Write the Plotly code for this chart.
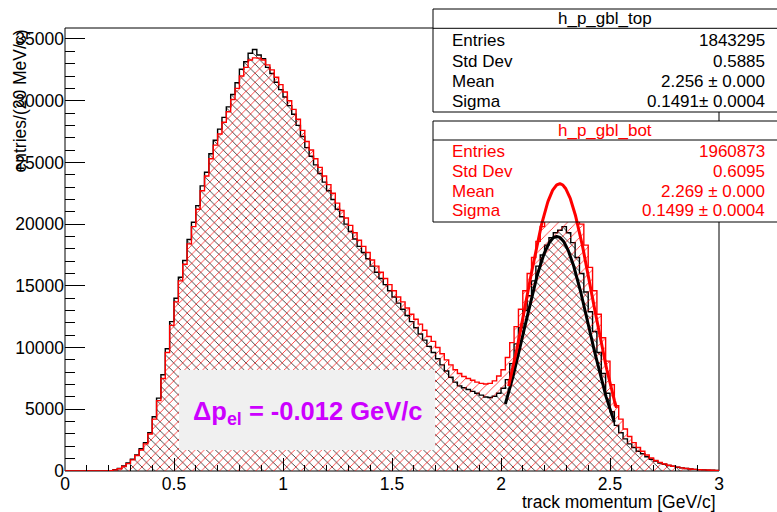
import numpy as np
import plotly.graph_objects as go

# ---------------- data ----------------
bin_width = 0.02
bin_low_edges = [round(i * bin_width, 2) for i in range(150)]

# h_p_gbl_top (black), entries per 20 MeV/c bin
top_counts = [
    0, 0, 0, 0, 0, 0, 0, 0, 0, 0,
    30, 100, 200, 400, 650, 950, 1300, 1800, 2300, 3100,
    4400, 5900, 7800, 9900, 12100, 14000, 15700, 17050, 18750, 20150,
    21500, 23100, 24200, 25700, 26800, 27700, 28650, 29500, 30500, 31450,
    32550, 33150, 33850, 34150, 33700, 33400, 32700, 32200, 31500, 30900,
    30300, 29600, 28900, 28000, 27100, 26200, 25500, 24800, 24100, 23400,
    22700, 22000, 21200, 20600, 20000, 19400, 18800, 18200, 17700, 17200,
    16600, 16100, 15600, 15100, 14600, 14100, 13600, 13100, 12600, 12100,
    11600, 11100, 10600, 10100, 9600, 9100, 8600, 8100, 7600, 7200,
    6900, 6750, 6600, 6450, 6300, 6150, 6000, 5950, 6050, 6300,
    6700, 7400, 8700, 10300, 11600, 13000, 14200, 15400, 16600, 17500,
    18300, 18900, 19300, 19500, 19800, 19300, 18500, 17300, 16000, 14500,
    12900, 11300, 9600, 7900, 6300, 4800, 3700, 3100, 2600, 2200,
    1900, 1600, 1400, 1150, 950, 800, 650, 550, 450, 380,
    300, 250, 200, 160, 130, 110, 90, 70, 60, 50,
]

# h_p_gbl_bot (red)
bot_counts = [
    0, 0, 0, 0, 0, 0, 0, 0, 0, 0,
    30, 90, 180, 370, 600, 900, 1250, 1700, 2200, 3000,
    4200, 5700, 7500, 9600, 11800, 13700, 15400, 16750, 18400, 19800,
    21200, 22700, 23900, 25300, 26400, 27300, 28250, 29100, 30100, 31000,
    32000, 32700, 33300, 33470, 33450, 33300, 32900, 32500, 31900, 31300,
    30700, 30000, 29300, 28500, 27600, 26700, 26000, 25300, 24600, 23900,
    23200, 22500, 21700, 21100, 20500, 19900, 19300, 18700, 18200, 17700,
    17100, 16600, 16100, 15600, 15100, 14600, 14100, 13700, 13200, 12700,
    12300, 11900, 11400, 10900, 10500, 10000, 9500, 9000, 8600, 8200,
    7900, 7650, 7500, 7350, 7200, 7100, 7050, 7100, 7300, 7700,
    8200, 9200, 10400, 11700, 13100, 14600, 16000, 17300, 18600, 19800,
    20900, 21800, 22600, 23100, 23300, 23000, 22400, 21400, 20000, 18300,
    16500, 14600, 12700, 10800, 8900, 7000, 5300, 4200, 3400, 2800,
    2300, 1900, 1600, 1300, 1050, 850, 700, 570, 460, 380,
    310, 250, 200, 160, 130, 110, 90, 75, 60, 50,
]

# Gaussian fits (mean / sigma from the stat boxes, amplitude)
top_fit = dict(amp=19000, mean=2.256, sigma=0.1491, lo=2.02, hi=2.52)
bot_fit = dict(amp=23270, mean=2.269, sigma=0.1499, lo=2.035, hi=2.53)

top_stats = [("Entries", "1843295"), ("Std Dev", "0.5885"),
             ("Mean", "2.256 \u00b1 0.000"), ("Sigma", "0.1491\u00b1 0.0004")]
bot_stats = [("Entries", "1960873"), ("Std Dev", "0.6095"),
             ("Mean", "2.269 \u00b1 0.000"), ("Sigma", "0.1499 \u00b1 0.0004")]

x_range = [0, 3]
y_range = [0, 35890]

# ---------------- layout geometry ----------------
W, H = 777, 512
ML, MR, MT, MB = 65, 58, 28, 41
PW, PH = W - ML - MR, H - MT - MB
FONT = "Liberation Sans, Arial, Helvetica, sans-serif"
RED = "#ff0000"


def px2p(px):
    return (px - ML) / PW


def py2p(py):
    return (H - MB - py) / PH


def px2x(px):
    return x_range[0] + px2p(px) * (x_range[1] - x_range[0])


def py2y(py):
    return y_range[0] + py2p(py) * (y_range[1] - y_range[0])


edges = bin_low_edges + [round(bin_low_edges[-1] + bin_width, 2)]

fig = go.Figure()


def hist_trace(counts, color, shape, name):
    return go.Scatter(
        x=edges, y=list(counts) + [counts[-1]], mode="lines",
        line=dict(color=color, width=1.4, shape="hv"),
        fill="tozeroy", fillcolor=color,
        fillpattern=dict(shape=shape, fgcolor=color, bgcolor="rgba(0,0,0,0)",
                         size=6.4, solidity=0.13, fgopacity=0.85),
        name=name, hoverinfo="skip", showlegend=False)


fig.add_trace(hist_trace(top_counts, "black", "\\", "h_p_gbl_top"))
fig.add_trace(hist_trace(bot_counts, RED, "/", "h_p_gbl_bot"))

# white cover for the lower stat box inside the plot area (hides histograms)
bx0, bx1 = px2x(433), x_range[1]
by0, by1 = py2y(222), py2y(121)
fig.add_trace(go.Scatter(x=[bx0, bx1, bx1, bx0, bx0], y=[by0, by0, by1, by1, by0],
                         mode="lines", line=dict(width=0, color="white"),
                         fill="toself", fillcolor="white",
                         hoverinfo="skip", showlegend=False))


def gauss_trace(p, color):
    xs = np.linspace(p["lo"], p["hi"], 200)
    ys = p["amp"] * np.exp(-0.5 * ((xs - p["mean"]) / p["sigma"]) ** 2)
    return go.Scatter(x=xs, y=ys, mode="lines", line=dict(color=color, width=3),
                      hoverinfo="skip", showlegend=False)


fig.add_trace(gauss_trace(top_fit, "black"))
fig.add_trace(gauss_trace(bot_fit, RED))

shapes = []
# frame
shapes.append(dict(type="rect", xref="paper", yref="paper", x0=0, x1=1, y0=0, y1=1,
                   line=dict(color="black", width=1), layer="below"))
# lower stat box background (outside part), below traces
shapes.append(dict(type="rect", xref="paper", yref="paper",
                   x0=px2p(433), x1=px2p(779), y0=py2p(222), y1=py2p(121),
                   fillcolor="white", line=dict(width=0), layer="below"))
# lower stat box border + separator
shapes.append(dict(type="rect", xref="paper", yref="paper",
                   x0=px2p(433), x1=px2p(779), y0=py2p(222), y1=py2p(121),
                   line=dict(color="black", width=1), layer="above"))
shapes.append(dict(type="line", xref="paper", yref="paper",
                   x0=px2p(433), x1=px2p(779), y0=py2p(140), y1=py2p(140),
                   line=dict(color="black", width=1), layer="above"))
# upper stat box
shapes.append(dict(type="rect", xref="paper", yref="paper",
                   x0=px2p(433), x1=px2p(779), y0=py2p(112), y1=py2p(9),
                   fillcolor="white", line=dict(color="black", width=1), layer="above"))
shapes.append(dict(type="line", xref="paper", yref="paper",
                   x0=px2p(433), x1=px2p(779), y0=py2p(28.3), y1=py2p(28.3),
                   line=dict(color="black", width=1), layer="above"))
# grey text pave
shapes.append(dict(type="rect", xref="paper", yref="paper",
                   x0=px2p(179), x1=px2p(435), y0=py2p(450), y1=py2p(370),
                   fillcolor="#f0f0f0", line=dict(width=0), layer="above"))

ann = []


def text(px, py, s, color="black", size=17, xanchor="left", **kw):
    ann.append(dict(xref="paper", yref="paper", x=px2p(px), y=py2p(py), text=s,
                    showarrow=False, xanchor=xanchor, yanchor="middle",
                    font=dict(family=FONT, size=size, color=color), **kw))


text(605, 18.5, "h_p_gbl_top", xanchor="center")
for (lab, val), py in zip(top_stats, [40, 61, 81, 101]):
    text(450, py, lab)
    text(767, py, val, xanchor="right")

text(605, 130, "h_p_gbl_bot", color=RED, xanchor="center")
for (lab, val), py in zip(bot_stats, [151, 171.5, 191.5, 211]):
    text(450, py, lab, color=RED)
    text(767, py, val, color=RED, xanchor="right")

text(308, 413, "<b>\u0394p<sub>el</sub> = -0.012 GeV/c</b>", color="#cc00ff",
     size=25.5, xanchor="center")

# axis titles
text(718, 502, "track momentum [GeV/c]", size=17.5, xanchor="right")
ann.append(dict(xref="paper", yref="paper", x=px2p(19), y=py2p(28), xanchor="center",
                yanchor="top", text="entries/(20 MeV/c)", textangle=-90, showarrow=False,
                font=dict(family=FONT, size=17.5, color="black")))

fig.update_layout(
    width=W, height=H, margin=dict(l=ML, r=MR, t=MT, b=MB, pad=0),
    paper_bgcolor="white", plot_bgcolor="white",
    shapes=shapes, annotations=ann, showlegend=False,
    font=dict(family=FONT, size=17, color="black"),
    xaxis=dict(range=x_range, showgrid=False, zeroline=False, showline=False,
               ticks="inside", ticklen=13, tickwidth=1, tickcolor="black",
               dtick=0.5, tick0=0, tickfont=dict(family=FONT, size=17.5),
               minor=dict(ticks="inside", ticklen=6.5, dtick=0.1, tickcolor="black",
                          showgrid=False)),
    yaxis=dict(range=y_range, showgrid=False, zeroline=False, showline=False,
               ticks="inside", ticklen=20, tickwidth=1, tickcolor="black",
               dtick=5000, tick0=0, tickformat="d", tickfont=dict(family=FONT, size=17.5),
               minor=dict(ticks="inside", ticklen=10, dtick=1000, tickcolor="black",
                          showgrid=False)),
)

fig.write_html("out.html")
